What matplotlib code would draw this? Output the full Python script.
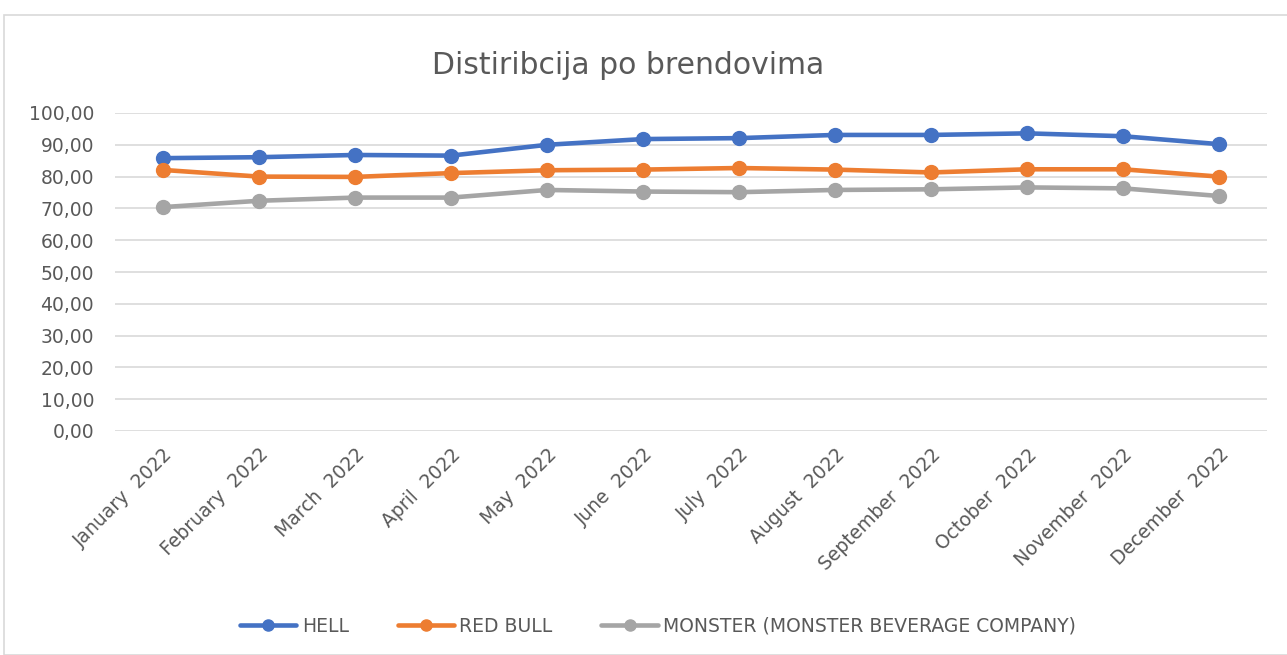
import matplotlib.pyplot as plt
from matplotlib.patches import Rectangle
from matplotlib.ticker import FuncFormatter

months = ["January  2022", "February  2022", "March  2022", "April  2022", "May  2022",
          "June  2022", "July  2022", "August  2022", "September  2022", "October  2022",
          "November  2022", "December  2022"]
hell = [85.8, 86.1, 86.8, 86.6, 90.0, 91.8, 92.1, 93.1, 93.1, 93.6, 92.7, 90.2]
red_bull = [82.1, 80.0, 79.9, 81.1, 82.0, 82.2, 82.7, 82.2, 81.3, 82.3, 82.3, 80.0]
monster = [70.4, 72.4, 73.4, 73.4, 75.8, 75.3, 75.1, 75.8, 76.0, 76.6, 76.3, 73.9]

series = [
    ("HELL", hell, "#4472C4"),
    ("RED BULL", red_bull, "#ED7D31"),
    ("MONSTER (MONSTER BEVERAGE COMPANY)", monster, "#A5A5A5"),
]

text_color = "#595959"
plt.rcParams['font.family'] = ['DejaVu Sans']

fig = plt.figure(figsize=(12.87, 6.55), dpi=100)
# chart border
fig.patches.append(Rectangle((4 / 1287, 0), 1.0, (655 - 15) / 655, transform=fig.transFigure,
                             fill=False, edgecolor="#D9D9D9", linewidth=1.2))

ax = fig.add_axes([115 / 1287, 224 / 655, 1152 / 1287, 318 / 655])
x = list(range(len(months)))
for name, vals, color in series:
    ax.plot(x, vals, color=color, linewidth=3.3, marker="o", markersize=10,
            label=name, solid_capstyle="round", zorder=3)

ax.set_xlim(-0.5, len(months) - 0.5)
ax.set_ylim(0, 100)
ax.set_yticks(range(0, 101, 10))
ax.yaxis.set_major_formatter(FuncFormatter(lambda v, p: f"{v:.2f}".replace(".", ",")))
ax.grid(axis="y", color="#D9D9D9", linewidth=1.2, zorder=0)
ax.set_axisbelow(True)
for s in ax.spines.values():
    s.set_visible(False)
ax.tick_params(axis="both", length=0, colors=text_color, labelsize=13.5)
ax.tick_params(axis="y", pad=15)
ax.set_xticks(x)
ax.set_xticklabels(months, rotation=45, ha="right", rotation_mode="anchor")
ax.tick_params(axis="x", pad=10)

fig.text(628 / 1287, 1 - 65 / 655, "Distiribcija po brendovima", ha="center", va="center",
         fontsize=21.5, color=text_color)

leg = fig.legend(loc="center", bbox_to_anchor=(658 / 1287, 1 - 626 / 655), ncol=3,
                 frameon=False, fontsize=13.5, handlelength=3.0, columnspacing=2.6,
                 handletextpad=0.3, markerscale=0.8)
for t in leg.get_texts():
    t.set_color(text_color)

fig.savefig("out.png", dpi=100)
